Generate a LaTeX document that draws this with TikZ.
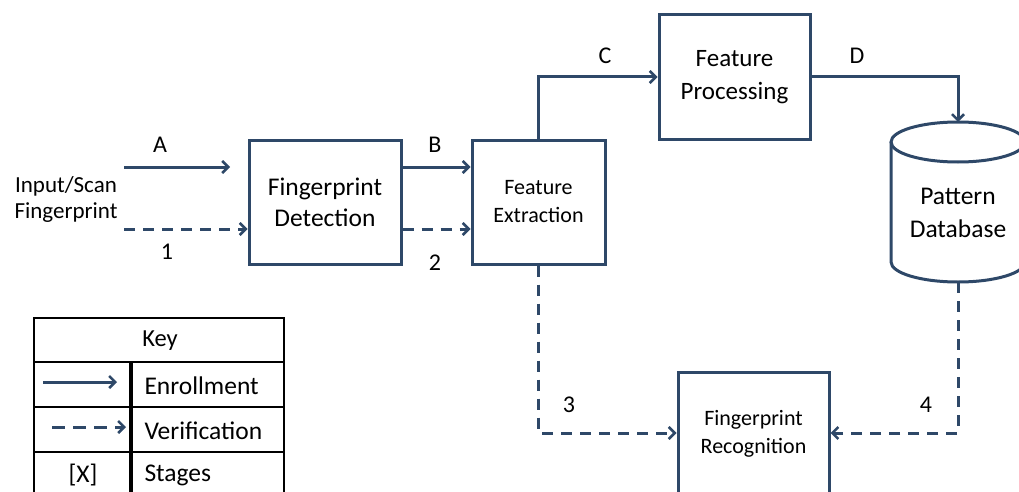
\documentclass[tikz,border=0pt]{standalone}
\usepackage{fontspec}
\setmainfont{Carlito}
\usetikzlibrary{arrows.meta}
\definecolor{ln}{RGB}{46,72,104}
\begin{document}
\begin{tikzpicture}[x=1pt,y=-1pt,
  box/.style={draw=ln,line width=3pt,minimum width=#1,inner sep=0pt,align=center},
  big/.style={font=\fontsize{25.5}{31}\selectfont},
  small/.style={font=\fontsize{22}{28}\selectfont},
  lbl/.style={font=\fontsize{24}{26}\selectfont},
  enr/.style={draw=ln,line width=3pt,-{Straight Barb[length=6pt,width=12pt,line width=2.5pt]}},
  ver/.style={enr,dash pattern=on 11pt off 8pt},
  cell/.style={draw=black,line width=2.5pt}]
\useasboundingbox (0,0) rectangle (1019,492);
% boxes
\node[box=152,minimum height=124,big] (det) at (325,202) {Fingerprint\\Detection};
\node[box=133,minimum height=124,small] (ext) at (538.5,202) {Feature\\Extraction};
\node[box=151,minimum height=124,font=\fontsize{25}{33}\selectfont] (proc) at (734.5,77) {Feature\\Processing};
\node[box=151,minimum height=124,small] (rec) at (753.5,434) {Fingerprint\\Recognition};
% database cylinder
\node[inner sep=0pt,align=center,font=\fontsize{25.5}{33}\selectfont] (db) at (958,213) {Pattern\\Database};
\draw[ln,line width=3pt] (891,142) -- (891,262) arc[start angle=180,end angle=0,x radius=67,y radius=20] -- (1025,142);
\draw[ln,line width=3pt] (958,142) ellipse[x radius=67,y radius=20];
\coordinate (dbtop) at (958,122);
\coordinate (dbbot) at (958,282);
% input
\node[font=\fontsize{23}{26}\selectfont,align=center] (in) at (66,199) {Input/Scan\\Fingerprint};
\coordinate (a0) at (124,167);
\coordinate (a1) at (230,167);
\coordinate (v0) at (124,229);
\draw[enr] (a0) -- (a1);
\draw[ver] (v0) -- (det.west |- v0);
\node[lbl] (la) at (160,145) {A};
\node[lbl] (l1) at (167,252) {1};
\draw[enr] (det.east |- a0) -- (ext.west |- a0);
\draw[ver] (det.east |- v0) -- (ext.west |- v0);
\node[lbl] (lb) at (435,145) {B};
\node[lbl] (l2) at (435,263) {2};
\draw[enr] (ext.north) |- (proc.west);
\node[lbl] (lc) at (605,56) {C};
\draw[enr] (proc.east) -| (dbtop);
\node[lbl] (ld) at (857,56) {D};
\draw[ver] (ext.south) |- (rec.west |- 0,433);
\node[lbl] (l3) at (569,405) {3};
\draw[ver] (dbbot) |- (rec.east |- 0,433);
\node[lbl] (l4) at (926,405) {4};
% key table
\draw[cell] (34,318) rectangle (284,362);
\node[font=\fontsize{24.5}{28}\selectfont] (key) at (160,341) {Key};
\draw[cell] (34,362) rectangle (130,407);
\draw[cell] (132,362) rectangle (284,407);
\draw[cell] (34,407) rectangle (130,452);
\draw[cell] (132,407) rectangle (284,452);
\draw[cell] (34,452) rectangle (130,498);
\draw[cell] (132,452) rectangle (284,498);
\coordinate (k1a) at (43,382);
\coordinate (k1b) at (117,382);
\coordinate (k2a) at (52,427);
\coordinate (k2b) at (126,427);
\draw[enr] (k1a) -- (k1b);
\draw[ver,dash pattern=on 13pt off 8pt] (k2a) -- (k2b);
\node[big,anchor=west] (ken) at (141,386) {Enrollment};
\node[big,anchor=west] (kve) at (141,431) {Verification};
\node[big,anchor=west] (kst) at (141,475) {Stages};
\node[big] (kx) at (83,475) {[X]};
\end{tikzpicture}
\end{document}
